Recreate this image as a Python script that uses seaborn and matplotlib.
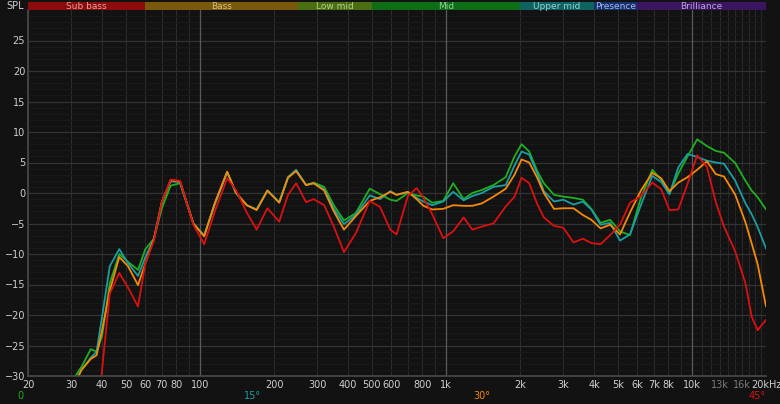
import numpy as np
import pandas as pd
import matplotlib
matplotlib.use("Agg")
import matplotlib.pyplot as plt
from matplotlib.ticker import NullFormatter
import seaborn as sns

# frequency points (Hz)
freq = [30, 33, 36, 38, 40, 43, 47, 51, 56, 60, 65, 70, 76, 83, 94, 104, 115, 129, 140,
        155, 170, 188, 210, 228, 246, 270, 290, 320, 350, 385, 430, 490, 540, 594, 630,
        700, 760, 810, 880, 975, 1070, 1180, 1280, 1400, 1560, 1750, 1900, 2030, 2180,
        2350, 2500, 2750, 3000, 3300, 3600, 3900, 4250, 4650, 5100, 5600, 6200, 6900,
        7500, 8100, 8800, 9600, 10500, 11500, 12500, 13500, 15000, 16500, 17500, 18500,
        20000]

# SPL (dB) per measuring angle
spl_0 = [-31, -28.5, -25.6, -26.0, -23.5, -14.8, -10.0, -11.3, -12.6, -9.2, -7.5, -2.5, 1.2,
         1.6, -5.0, -7.0, -1.8, 3.4, 0.0, -2.0, -2.7, 0.4, -1.5, 2.6, 3.7, 1.3, 1.7, 1.0,
         -2.0, -4.5, -3.3, 0.7, -0.2, -1.1, -1.3, 0.0, -0.4, -0.6, -1.6, -1.3, 1.6, -1.0,
         0.0, 0.5, 1.3, 2.6, 6.0, 8.0, 6.8, 3.6, 1.6, -0.3, -0.6, -0.8, -1.1, -2.6, -4.9,
         -4.4, -6.3, -6.9, -0.8, 3.8, 2.2, -0.1, 3.2, 6.0, 8.8, 7.7, 6.9, 6.6, 4.9, 2.0,
         0.4, -0.7, -2.7]
spl_15 = [-32, -29, -27, -26, -20.3, -12.0, -9.2, -11.5, -13.6, -10.5, -7.5, -1.5, 1.9,
          1.8, -5.0, -7.0, -1.8, 3.4, 0.0, -2.0, -2.7, 0.4, -1.5, 2.6, 3.8, 1.3, 1.6, 0.6,
          -2.6, -5.1, -3.6, -0.4, -1.0, 0.3, -0.3, 0.1, -0.8, -1.4, -2.0, -1.4, 0.2, -1.2,
          -0.5, 0.0, 1.0, 1.3, 4.5, 6.8, 6.3, 3.2, 0.3, -1.4, -1.1, -1.9, -1.4, -2.7, -5.2,
          -4.9, -7.8, -6.8, -2.0, 2.8, 1.8, -0.2, 4.2, 6.4, 5.9, 5.3, 5.0, 4.8, 2.0, -1.7,
          -3.5, -5.6, -9.1]
spl_30 = [-32.5, -29, -27.2, -26.6, -22.5, -16.0, -10.5, -12.0, -15.1, -11.5, -7.5, -1.5,
          2.1, 1.9, -5.0, -7.1, -1.6, 3.5, 0.1, -2.0, -2.8, 0.4, -1.6, 2.5, 3.6, 1.3, 1.6,
          0.4, -3.0, -6.0, -3.8, -1.3, -0.7, 0.2, -0.3, 0.2, -1.0, -2.1, -2.7, -2.6, -2.0,
          -2.1, -2.1, -1.7, -0.6, 0.7, 3.0, 5.5, 5.0, 2.5, 0.0, -2.6, -2.5, -2.5, -3.6,
          -4.4, -5.8, -5.2, -6.8, -3.2, 0.4, 3.3, 2.4, 0.3, 1.7, 2.6, 3.8, 5.2, 3.1, 2.7,
          -0.3, -4.8, -8.3, -11.7, -18.6]
spl_45 = [-45, -45, -45, -40, -29, -16.5, -13.1, -15.5, -18.6, -11.5, -7.8, -1.5, 2.2, 2.0,
          -5.2, -8.4, -3.0, 2.4, 0.5, -3.2, -6.0, -2.5, -4.7, -0.3, 1.6, -1.5, -1.0, -2.0,
          -5.5, -9.7, -6.6, -1.3, -2.3, -6.0, -6.8, -0.5, 0.8, -0.8, -3.5, -7.4, -6.3,
          -4.0, -6.0, -5.5, -5.0, -2.2, -0.6, 2.5, 1.6, -1.8, -4.0, -5.4, -5.7, -8.1, -7.5,
          -8.2, -8.4, -6.9, -5.2, -1.6, -0.5, 1.7, 0.6, -2.8, -2.7, 1.5, 6.2, 4.3, -1.5,
          -5.5, -9.6, -14.8, -20.3, -22.5, -20.8]

angles = ["0", "15°", "30°", "45°"]
line_colors = ["#1fb01f", "#1a9ea3", "#f58a0a", "#dc1010"]

bands = ["Sub bass", "Bass", "Low mid", "Mid", "Upper mid", "Presence", "Brilliance"]
band_edges = [20, 60, 250, 500, 2000, 4000, 6000, 20000]
band_colors = ["#8c0b0b", "#7a5a0a", "#4b6e12", "#0e6e16", "#0f6262", "#13316e", "#3b1562"]
band_text = ["#e2a3a3", "#d6be84", "#b9d193", "#93d196", "#94d1d1", "#a9b6e2", "#bca6da"]

xtick_vals = [20, 30, 40, 50, 60, 70, 80, 100, 200, 300, 400, 500, 600, 800, 1000, 2000,
              3000, 4000, 5000, 6000, 7000, 8000, 10000, 13000, 16000, 20000]
xtick_labels = ["20", "30", "40", "50", "60", "70", "80", "100", "200", "300", "400", "500",
                "600", "800", "1k", "2k", "3k", "4k", "5k", "6k", "7k", "8k", "10k", "13k",
                "16k", "20kHz"]

df = pd.DataFrame({"freq": freq * 4,
                   "spl": spl_0 + spl_15 + spl_30 + spl_45,
                   "angle": np.repeat(angles, len(freq))})

bg = "#121212"
sns.set_style("dark", {"axes.facecolor": bg, "figure.facecolor": bg})
plt.rcParams["font.family"] = ["DejaVu Sans"]

fig = plt.figure(figsize=(7.8, 4.04), dpi=100)
ax = fig.add_axes([28 / 780, 28 / 404, 738 / 780, 366 / 404])
ax.set_facecolor(bg)

sns.lineplot(data=df, x="freq", y="spl", hue="angle", palette=line_colors,
             estimator=None, linewidth=1.3, legend=False, ax=ax)
ax.set_xscale("log")
ax.set_xlim(20, 20000)
ax.set_ylim(-30, 30)

# grid
minor_x = [f for dec in (10, 100, 1000) for f in np.arange(2, 10) * dec] + \
          list(np.arange(11000, 20000, 1000))
ax.set_xticks(xtick_vals)
ax.set_xticklabels(xtick_labels)
ax.set_xticks([f for f in minor_x if 20 < f < 20000], minor=True)
ax.xaxis.set_minor_formatter(NullFormatter())
ax.set_yticks(np.arange(-30, 30, 5))
ax.set_yticks(np.arange(-29, 30, 1), minor=True)
ax.yaxis.set_minor_formatter(NullFormatter())
ax.tick_params(which="both", length=0, colors="#cfcfcf", labelsize=7)
ax.tick_params(axis="x", pad=3)
ax.tick_params(axis="y", pad=2)
for lbl in ax.get_xticklabels():
    if lbl.get_text() in ("13k", "16k"):
        lbl.set_color("#7a7a7a")
ax.grid(False)
ax.grid(True, which="minor", axis="y", color="#191919", linewidth=0.8)
ax.grid(True, which="major", axis="y", color="#333333", linewidth=0.9)
ax.grid(True, which="minor", axis="x", color="#282828", linewidth=0.8)
ax.grid(True, which="major", axis="x", color="#2c2c2c", linewidth=0.8)
for f in (100, 1000, 10000):
    ax.axvline(f, color="#5a5a5a", linewidth=0.9, zorder=1)
ax.set_axisbelow(True)
for side in ("top", "right"):
    ax.spines[side].set_visible(False)
for side in ("left", "bottom"):
    ax.spines[side].set_color("#4a4a4a")
    ax.spines[side].set_linewidth(1.2)
ax.set_xlabel("")
ax.set_ylabel("")

# frequency band strip
bx = fig.add_axes([28 / 780, 394 / 404, 738 / 780, 8 / 404])
bx.set_xscale("log")
bx.set_xlim(20, 20000)
bx.set_ylim(0, 1)
for i, name in enumerate(bands):
    lo, hi = band_edges[i], band_edges[i + 1]
    bx.axvspan(lo, hi, color=band_colors[i], linewidth=0)
    bx.text(np.sqrt(lo * hi), 0.45, name, ha="center", va="center",
            fontsize=6.5, color=band_text[i])
bx.axis("off")

fig.text(15 / 780, 1 - 6 / 404, "SPL", ha="center", va="center", fontsize=7, color="#cfcfcf")

# angle legend along the bottom
for name, col, xp in zip(angles, line_colors, [20, 253, 482, 757]):
    fig.text(xp / 780, 1 - 396 / 404, name, ha="center", va="center", fontsize=7, color=col)

fig.savefig("out.png", dpi=100, facecolor=bg)
